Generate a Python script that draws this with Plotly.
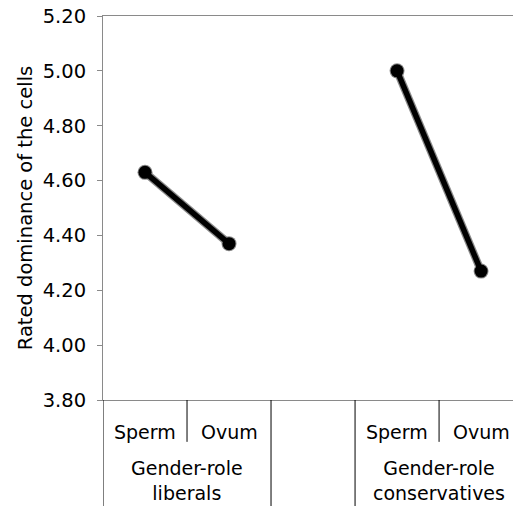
import plotly.graph_objects as go

conditions = ["Sperm", "Ovum"]
groups = ["Gender-role<br>liberals", "Gender-role<br>conservatives"]
liberals = [4.63, 4.37]
conservatives = [5.00, 4.27]
y_ticks = [3.80, 4.00, 4.20, 4.40, 4.60, 4.80, 5.00, 5.20]

FONT = "DejaVu Sans"
AX = "#8a8a8a"
FS = 19.5

fig = go.Figure()
series = [(liberals, [0, 1]), (conservatives, [3, 4])]
for vals, xs in series:
    fig.add_trace(go.Scatter(
        x=xs, y=vals, mode="lines+markers",
        line=dict(color="#8a8a8a", width=8),
        marker=dict(size=15, color="#8a8a8a"),
        hoverinfo="skip", showlegend=False))
    fig.add_trace(go.Scatter(
        x=xs, y=vals, mode="lines+markers",
        line=dict(color="black", width=5.5),
        marker=dict(size=13, color="black"),
        showlegend=False))

# category labels
for xs in ([0, 1], [3, 4]):
    for xi, lab in zip(xs, conditions):
        fig.add_annotation(x=xi, y=-0.083, xref="x", yref="paper", text=lab,
                           yanchor="middle", xanchor="center",
                           showarrow=False, font=dict(family=FONT, size=19, color="black"))
for xc, g in zip([0.5, 3.5], groups):
    fig.add_annotation(x=xc, y=-0.21, xref="x", yref="paper", text=g,
                       yanchor="middle", xanchor="center",
                       showarrow=False, font=dict(family=FONT, size=19, color="black"))

# divider lines
for xd in [-0.5, 1.5, 2.5]:
    fig.add_shape(type="line", xref="x", yref="paper", x0=xd, x1=xd, y0=0, y1=-0.3,
                  line=dict(color="black", width=1))
for xd in [0.5, 3.5]:
    fig.add_shape(type="line", xref="x", yref="paper", x0=xd, x1=xd, y0=0, y1=-0.109,
                  line=dict(color="black", width=1))

fig.update_layout(
    width=513, height=506,
    margin=dict(l=103, r=0, t=16, b=106),
    plot_bgcolor="white", paper_bgcolor="white",
    font=dict(family=FONT, size=FS, color="black"),
    xaxis=dict(range=[-0.5, 4.38], showticklabels=False, ticks="", showgrid=False,
               zeroline=False, showline=True, linecolor=AX, linewidth=1, mirror=True),
    yaxis=dict(range=[3.80, 5.20], tickvals=y_ticks,
               ticktext=[f"{v:.2f}" for v in y_ticks], ticks="outside", ticklen=5,
               tickcolor=AX, showgrid=False, zeroline=False, showline=True,
               linecolor=AX, linewidth=1, ticklabelstandoff=7,
               title=dict(text="Rated dominance of the cells", font=dict(family=FONT, size=FS),
                          standoff=4),
               tickfont=dict(family=FONT, size=FS)),
)

fig.write_html("out.html", config={"displayModeBar": False},
               post_script="document.body.style.margin='0';document.body.style.overflow='hidden';")
